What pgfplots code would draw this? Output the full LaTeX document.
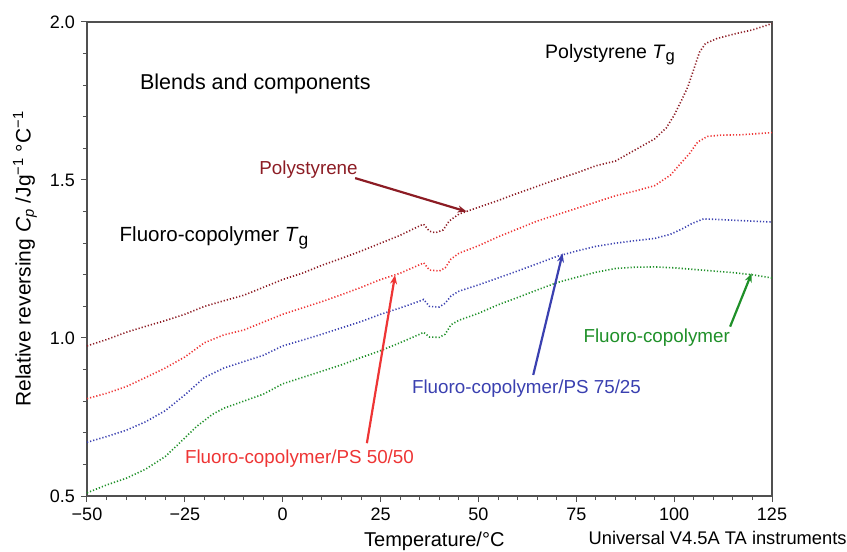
\documentclass[border=0pt]{standalone}
\usepackage{fontspec}
\setmainfont{Liberation Sans}
\usepackage{pgfplots}
\pgfplotsset{compat=1.18}
\usetikzlibrary{arrows.meta}
\definecolor{psred}{HTML}{8C1C24}
\definecolor{bred}{HTML}{EE3535}
\definecolor{bblue}{HTML}{3A40B0}
\definecolor{bgreen}{HTML}{1F9029}
\definecolor{axisgray}{HTML}{505050}
\newcommand{\Tg}{\textit{T}\raisebox{-0.35ex}{\fontsize{0.85em}{1em}\selectfont g}}
\pgfplotstableread{
x y
-50 0.975
-45 0.995
-40 1.018
-35 1.037
-30 1.055
-25 1.075
-20 1.100
-15 1.118
-10 1.135
-5 1.160
0 1.185
5 1.205
10 1.230
15 1.252
20 1.275
25 1.300
30 1.325
35 1.355
36 1.360
37.5 1.338
39 1.333
41 1.342
42.5 1.370
45 1.392
48 1.405
55 1.435
60 1.458
65 1.480
70 1.502
75 1.522
80 1.545
85 1.560
90 1.595
95 1.630
98 1.665
100 1.705
102 1.755
103.5 1.795
105 1.850
106.5 1.905
108 1.932
111 1.948
116 1.964
120 1.975
125 1.995
}\tps
\pgfplotstableread{
x y
-50 0.808
-45 0.825
-40 0.846
-35 0.875
-30 0.905
-25 0.940
-20 0.985
-15 1.010
-10 1.025
-5 1.050
0 1.075
5 1.095
10 1.115
15 1.137
20 1.160
25 1.185
30 1.205
35 1.232
36 1.238
37.5 1.215
40 1.212
41.5 1.222
43 1.250
45 1.268
50 1.292
55 1.320
60 1.345
65 1.370
70 1.390
75 1.410
80 1.430
85 1.450
90 1.465
95 1.482
99 1.515
101.5 1.550
104 1.585
106 1.620
108.5 1.638
112 1.642
117 1.643
125 1.650
}\tfifty
\pgfplotstableread{
x y
-50 0.670
-45 0.688
-40 0.708
-35 0.735
-30 0.770
-25 0.820
-20 0.875
-15 0.905
-10 0.925
-5 0.945
0 0.975
5 0.993
10 1.012
15 1.032
20 1.052
25 1.075
30 1.095
35 1.117
36 1.122
37.5 1.100
40 1.098
41.5 1.110
43 1.133
45 1.148
50 1.168
55 1.190
60 1.212
65 1.235
70 1.258
75 1.275
80 1.290
85 1.300
90 1.308
95 1.315
99 1.328
102 1.345
104.5 1.362
107.5 1.377
113 1.374
118 1.371
125 1.367
}\tseventyfive
\pgfplotstableread{
x y
-50 0.510
-45 0.535
-40 0.556
-35 0.585
-30 0.625
-27 0.660
-22 0.720
-18 0.758
-15 0.778
-10 0.800
-5 0.822
0 0.855
5 0.875
10 0.895
15 0.915
20 0.938
25 0.960
30 0.985
35 1.012
36 1.018
37.5 1.003
40 1.002
41.5 1.012
43 1.042
45 1.056
50 1.078
55 1.105
60 1.128
65 1.152
70 1.175
75 1.192
80 1.208
85 1.220
90 1.224
95 1.225
100 1.222
105 1.217
110 1.212
115 1.207
120 1.200
125 1.190
}\tfluoro
\begin{document}
\fontsize{18bp}{21bp}\selectfont
\begin{tikzpicture}
\useasboundingbox (-87bp,-56bp) rectangle (760bp,496bp);
\begin{axis}[
  at={(0,0)}, anchor=south west,
  scale only axis, width=685bp, height=474bp,
  xmin=-50, xmax=125, ymin=0.5, ymax=2.0,
  xtick={-50,-25,0,25,50,75,100,125},
  xticklabels={−50,−25,0,25,50,75,100,125},
  ytick={0.5,1.0,1.5,2.0},
  yticklabels={0.5,1.0,1.5,2.0},
  minor x tick num=4, minor y tick num=4,
  tick align=outside, tick pos=left,
  major tick length=6bp, minor tick length=4bp,
  axis line style={color=axisgray, line width=1.3bp},
  tick style={color=axisgray, line width=1bp},
  tick label style={font=\fontsize{18bp}{21bp}\selectfont},
  xlabel={Temperature/°C},
  ylabel={Relative reversing \textit{C}\textsubscript{\textit{p}} /Jg\textsuperscript{−1} °C\textsuperscript{−1}},
  xlabel style={at={(axis description cs:0.507,-0.107)}, anchor=base, font=\fontsize{20bp}{24bp}\selectfont},
  ylabel style={at={(axis description cs:-0.0905,0.5)}, anchor=center, font=\fontsize{21bp}{24bp}\selectfont},
  clip=false,
  every axis plot/.append style={line width=1.6bp, dash pattern=on 1.2bp off 2bp},
]
\addplot[psred, no marks] table {\tps};
\addplot[bred, no marks] table {\tfifty};
\addplot[bblue, no marks] table {\tseventyfive};
\addplot[bgreen, no marks] table {\tfluoro};

\draw[psred, line width=2.2bp, -{Stealth[length=9bp,width=7bp]}] (axis cs:18.5,1.506) -- (axis cs:47,1.40);
\draw[bred, line width=2.2bp, -{Stealth[length=9bp,width=7bp]}] (axis cs:21.5,0.667) -- (axis cs:28.7,1.199);
\draw[bblue, line width=2.2bp, -{Stealth[length=9bp,width=7bp]}] (axis cs:64,0.883) -- (axis cs:71.5,1.268);
\draw[bgreen, line width=2.2bp, -{Stealth[length=9bp,width=7bp]}] (axis cs:114.3,1.036) -- (axis cs:119.8,1.205);

\begin{scope}[every node/.style={inner sep=0pt}]
\node[anchor=base west, font=\fontsize{21.5bp}{24bp}\selectfont] at (axis cs:-36.5,1.785) {Blends and components};
\node[anchor=base west, font=\fontsize{19.5bp}{22bp}\selectfont] at (axis cs:67.0,1.885) {Polystyrene \Tg};
\node[anchor=base west, font=\fontsize{20.5bp}{23bp}\selectfont] at (axis cs:-41.7,1.305) {Fluoro-copolymer \Tg};
\node[anchor=base west, text=psred, font=\fontsize{18.8bp}{22bp}\selectfont] at (axis cs:-6.0,1.516) {Polystyrene};
\node[anchor=base west, text=bred, font=\fontsize{18.8bp}{22bp}\selectfont] at (axis cs:-25.0,0.603) {Fluoro-copolymer/PS 50/50};
\node[anchor=base west, text=bblue, font=\fontsize{18.8bp}{22bp}\selectfont] at (axis cs:33.0,0.823) {Fluoro-copolymer/PS 75/25};
\node[anchor=base west, text=bgreen, font=\fontsize{18.8bp}{22bp}\selectfont] at (axis cs:76.8,0.985) {Fluoro-copolymer};
\node[anchor=base west, font=\fontsize{18.3bp}{21bp}\selectfont] at (axis description cs:0.732,-0.102) {Universal V4.5A TA instruments};
\end{scope}
\end{axis}
\end{tikzpicture}
\end{document}
